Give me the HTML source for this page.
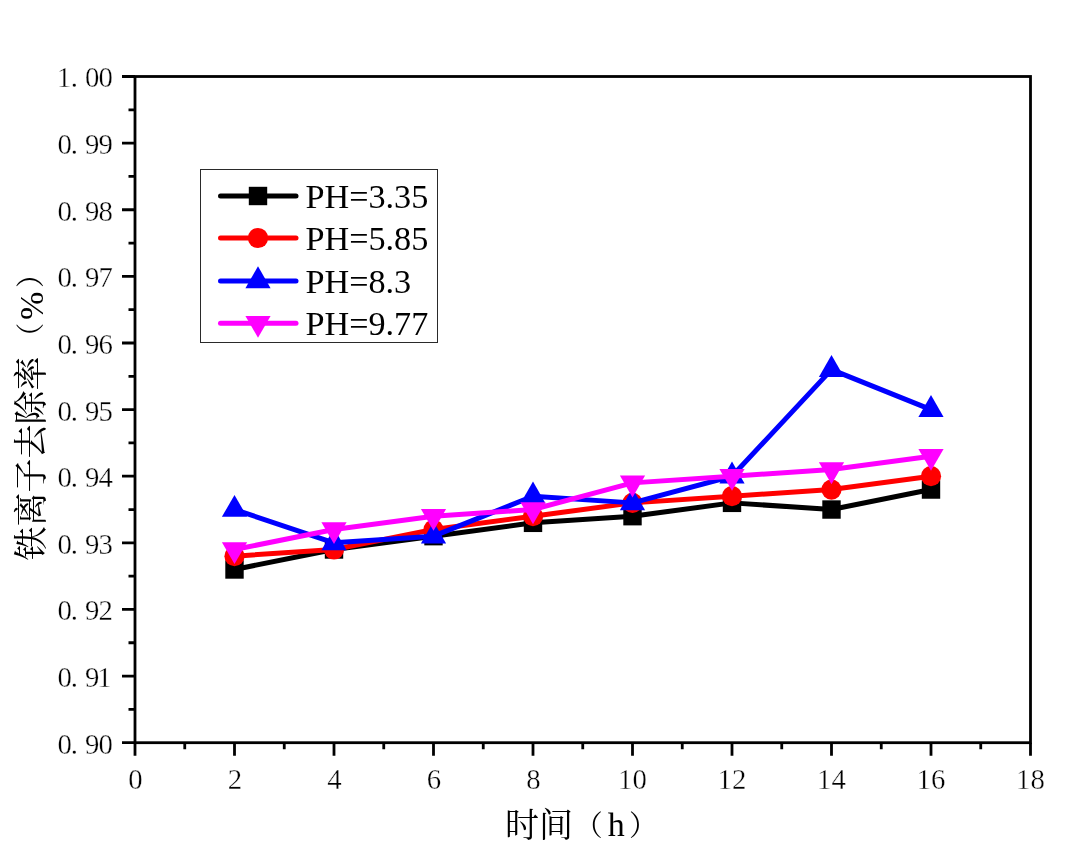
<!DOCTYPE html>
<html lang="zh-CN">
<head>
<meta charset="utf-8">
<title>铁离子去除率 - 时间</title>
<style>
html,body{margin:0;padding:0;background:#fff;}
body{width:1091px;height:854px;overflow:hidden;font-family:"Liberation Serif","Noto Serif CJK SC",serif;}
svg{display:block;}
</style>
</head>
<body>
<svg width="1091" height="854" viewBox="0 0 1091 854">
<rect width="1091" height="854" fill="#ffffff"/>
<g stroke="#000" stroke-width="2.8" fill="none">
<rect x="135.0" y="76.5" width="895.5" height="666.2"/>
<path d="M135.00,742.7v13.0 M184.75,742.7v6.5 M234.50,742.7v13.0 M284.25,742.7v6.5 M334.00,742.7v13.0 M383.75,742.7v6.5 M433.50,742.7v13.0 M483.25,742.7v6.5 M533.00,742.7v13.0 M582.75,742.7v6.5 M632.50,742.7v13.0 M682.25,742.7v6.5 M732.00,742.7v13.0 M781.75,742.7v6.5 M831.50,742.7v13.0 M881.25,742.7v6.5 M931.00,742.7v13.0 M980.75,742.7v6.5 M1030.50,742.7v13.0 M135.0,742.70h-13.0 M135.0,709.39h-6.5 M135.0,676.08h-13.0 M135.0,642.77h-6.5 M135.0,609.46h-13.0 M135.0,576.15h-6.5 M135.0,542.84h-13.0 M135.0,509.53h-6.5 M135.0,476.22h-13.0 M135.0,442.91h-6.5 M135.0,409.60h-13.0 M135.0,376.29h-6.5 M135.0,342.98h-13.0 M135.0,309.67h-6.5 M135.0,276.36h-13.0 M135.0,243.05h-6.5 M135.0,209.74h-13.0 M135.0,176.43h-6.5 M135.0,143.12h-13.0 M135.0,109.81h-6.5 M135.0,76.50h-13.0"/>
</g>
<g font-family="'Liberation Serif', 'Noto Serif CJK SC', serif" font-size="28.8" fill="#000" stroke="#fff" stroke-width="0.35">
<text x="128.35" y="789.0">0</text>
<text x="227.85" y="789.0">2</text>
<text x="327.35" y="789.0">4</text>
<text x="426.85" y="789.0">6</text>
<text x="526.35" y="789.0">8</text>
<text x="618.10 632.60" y="789.0">10</text>
<text x="717.60 732.10" y="789.0">12</text>
<text x="817.10 831.60" y="789.0">14</text>
<text x="916.60 931.10" y="789.0">16</text>
<text x="1016.10 1030.60" y="789.0">18</text>
<text x="57.50 70.80 85.00 98.50" y="753.60">0.90</text>
<text x="57.50 70.80 85.00 97.30" y="686.98">0.91</text>
<text x="57.50 70.80 85.00 98.50" y="620.36">0.92</text>
<text x="57.50 70.80 85.00 98.50" y="553.74">0.93</text>
<text x="57.50 70.80 85.00 98.50" y="487.12">0.94</text>
<text x="57.50 70.80 85.00 98.50" y="420.50">0.95</text>
<text x="57.50 70.80 85.00 98.50" y="353.88">0.96</text>
<text x="57.50 70.80 85.00 98.50" y="287.26">0.97</text>
<text x="57.50 70.80 85.00 98.50" y="220.64">0.98</text>
<text x="57.50 70.80 85.00 98.50" y="154.02">0.99</text>
<text x="56.80 70.80 85.00 98.50" y="87.40">1.00</text>
</g>
<g font-family="'Liberation Serif', 'Noto Serif CJK SC', serif" font-size="34.0" fill="#000">
<text x="505.1 539.1" y="836.6">时间<tspan font-size="28.5" x="574.3" y="835.6">（</tspan><tspan x="607.8" y="836.0">h</tspan><tspan font-size="28.5" x="628.9" y="835.6">）</tspan></text>
<text transform="translate(42.7,560.5) rotate(-90)" x="0 34 68 102 136 170" y="0">铁离子去除率<tspan font-size="28.5" x="209.2" y="-2.0">（</tspan><tspan x="240.5" y="0">%</tspan><tspan font-size="28.5" x="272.6" y="-2.0">）</tspan></text>
</g>
<polyline points="234.50,569.49 334.00,549.50 433.50,536.18 533.00,522.85 632.50,516.19 732.00,502.87 831.50,509.53 931.00,489.54" fill="none" stroke="#000000" stroke-width="5.0" stroke-linejoin="round" stroke-linecap="round"/>
<rect x="225.30" y="560.29" width="18.4" height="18.4" fill="#000000"/>
<rect x="324.80" y="540.30" width="18.4" height="18.4" fill="#000000"/>
<rect x="424.30" y="526.98" width="18.4" height="18.4" fill="#000000"/>
<rect x="523.80" y="513.65" width="18.4" height="18.4" fill="#000000"/>
<rect x="623.30" y="506.99" width="18.4" height="18.4" fill="#000000"/>
<rect x="722.80" y="493.67" width="18.4" height="18.4" fill="#000000"/>
<rect x="822.30" y="500.33" width="18.4" height="18.4" fill="#000000"/>
<rect x="921.80" y="480.34" width="18.4" height="18.4" fill="#000000"/>
<polyline points="234.50,556.16 334.00,549.50 433.50,529.52 533.00,516.19 632.50,502.87 732.00,496.21 831.50,489.54 931.00,476.22" fill="none" stroke="#ff0000" stroke-width="5.0" stroke-linejoin="round" stroke-linecap="round"/>
<circle cx="234.50" cy="556.16" r="10.1" fill="#ff0000"/>
<circle cx="334.00" cy="549.50" r="10.1" fill="#ff0000"/>
<circle cx="433.50" cy="529.52" r="10.1" fill="#ff0000"/>
<circle cx="533.00" cy="516.19" r="10.1" fill="#ff0000"/>
<circle cx="632.50" cy="502.87" r="10.1" fill="#ff0000"/>
<circle cx="732.00" cy="496.21" r="10.1" fill="#ff0000"/>
<circle cx="831.50" cy="489.54" r="10.1" fill="#ff0000"/>
<circle cx="931.00" cy="476.22" r="10.1" fill="#ff0000"/>
<polyline points="234.50,509.53 334.00,542.84 433.50,536.18 533.00,496.21 632.50,502.87 732.00,476.22 831.50,369.63 931.00,409.60" fill="none" stroke="#0000ff" stroke-width="5.0" stroke-linejoin="round" stroke-linecap="round"/>
<polygon points="234.50,494.93 221.90,516.83 247.10,516.83" fill="#0000ff"/>
<polygon points="334.00,528.24 321.40,550.14 346.60,550.14" fill="#0000ff"/>
<polygon points="433.50,521.58 420.90,543.48 446.10,543.48" fill="#0000ff"/>
<polygon points="533.00,481.61 520.40,503.51 545.60,503.51" fill="#0000ff"/>
<polygon points="632.50,488.27 619.90,510.17 645.10,510.17" fill="#0000ff"/>
<polygon points="732.00,461.62 719.40,483.52 744.60,483.52" fill="#0000ff"/>
<polygon points="831.50,355.03 818.90,376.93 844.10,376.93" fill="#0000ff"/>
<polygon points="931.00,395.00 918.40,416.90 943.60,416.90" fill="#0000ff"/>
<polyline points="234.50,549.50 334.00,529.52 433.50,516.19 533.00,509.53 632.50,482.88 732.00,476.22 831.50,469.56 931.00,456.23" fill="none" stroke="#ff00ff" stroke-width="5.0" stroke-linejoin="round" stroke-linecap="round"/>
<polygon points="234.50,564.10 221.90,542.20 247.10,542.20" fill="#ff00ff"/>
<polygon points="334.00,544.12 321.40,522.22 346.60,522.22" fill="#ff00ff"/>
<polygon points="433.50,530.79 420.90,508.89 446.10,508.89" fill="#ff00ff"/>
<polygon points="533.00,524.13 520.40,502.23 545.60,502.23" fill="#ff00ff"/>
<polygon points="632.50,497.48 619.90,475.58 645.10,475.58" fill="#ff00ff"/>
<polygon points="732.00,490.82 719.40,468.92 744.60,468.92" fill="#ff00ff"/>
<polygon points="831.50,484.16 818.90,462.26 844.10,462.26" fill="#ff00ff"/>
<polygon points="931.00,470.83 918.40,448.93 943.60,448.93" fill="#ff00ff"/>
<rect x="200.5" y="169.5" width="237" height="173" fill="#fff" stroke="#2a2a2a" stroke-width="1"/>
<g font-family="'Liberation Serif', serif" font-size="34.2" fill="#000">
<line x1="220.5" y1="196.0" x2="296" y2="196.0" stroke="#000000" stroke-width="5.0" stroke-linecap="round"/>
<rect x="248.80" y="186.80" width="18.4" height="18.4" fill="#000000"/>
<text x="305.5" y="208.00">PH=3.35</text>
<line x1="220.5" y1="238.0" x2="296" y2="238.0" stroke="#ff0000" stroke-width="5.0" stroke-linecap="round"/>
<circle cx="258.00" cy="238.00" r="10.1" fill="#ff0000"/>
<text x="305.5" y="250.00">PH=5.85</text>
<line x1="220.5" y1="280.9" x2="296" y2="280.9" stroke="#0000ff" stroke-width="5.0" stroke-linecap="round"/>
<polygon points="258.00,266.30 245.40,288.20 270.60,288.20" fill="#0000ff"/>
<text x="305.5" y="292.90">PH=8.3</text>
<line x1="220.5" y1="323.2" x2="296" y2="323.2" stroke="#ff00ff" stroke-width="5.0" stroke-linecap="round"/>
<polygon points="258.00,337.80 245.40,315.90 270.60,315.90" fill="#ff00ff"/>
<text x="305.5" y="335.20">PH=9.77</text>
</g>
</svg>
</body>
</html>
